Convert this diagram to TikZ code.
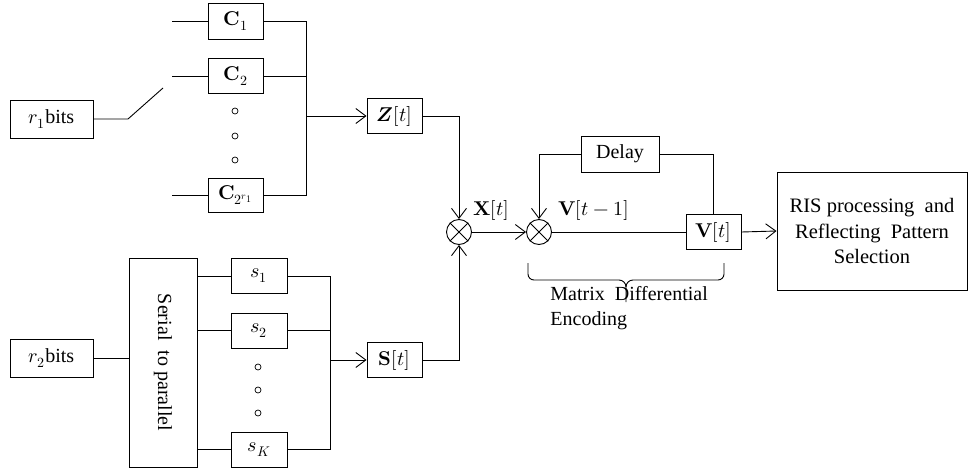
\documentclass[tikz,border=0pt]{standalone}
\usepackage{fontspec}
\usepackage{unicode-math}
\setmainfont{Liberation Serif}
\setmathfont{Latin Modern Math}
\usetikzlibrary{arrows.meta}
\begin{document}
\begin{tikzpicture}[x=1pt,y=-1pt, line width=0.9pt,
  box/.style={draw, inner sep=0pt, font=\fontsize{20}{24}\selectfont},
  arr/.style={-{Straight Barb[length=10pt,width=15pt,line width=0.9pt]}},
  mult/.style={draw, circle, minimum size=25pt, inner sep=0pt},
  dotc/.style={draw, circle, minimum size=6pt, inner sep=0pt, line width=0.7pt},
  lbl/.style={font=\fontsize{20}{24}\selectfont, inner sep=0pt}]
\useasboundingbox (0,0) rectangle (969,471);

% ---- upper branch
\node[box, minimum width=83pt, minimum height=38pt] (r1) at (51.5,119) {$r_1$bits};
\coordinate (sw1) at (128,119);
\coordinate (sw2) at (163,88);
\draw (r1.east) -- (sw1) -- (sw2);

\node[box, minimum width=55pt, minimum height=36pt] (c1) at (235.5,21) {$\symbf{C}_1$};
\node[box, minimum width=55pt, minimum height=35pt] (c2) at (235.5,76) {$\symbf{C}_2$};
\node[box, minimum width=55pt, minimum height=34pt] (cn) at (235.5,195) {$\symbf{C}_{2^{r_1}}$};
\coordinate (c1in) at (172,21);
\coordinate (c2in) at (172,76);
\coordinate (cnin) at (172,195);
\draw (c1in) -- (c1.west);
\draw (c2in) -- (c2.west);
\draw (cnin) -- (cn.west);
\node[dotc] (cd1) at (235,111) {};
\node[dotc] (cd2) at (235,136) {};
\node[dotc] (cd3) at (235,160) {};

\coordinate (bz) at (306,116);
\draw (c1.east) -- (c1.east -| bz) -- (cn.east -| bz) -- (cn.east);
\draw (c2.east) -- (c2.east -| bz);
\node[box, minimum width=55pt, minimum height=35pt] (z) at (394.5,116) {$\symbfit{Z}[t]$};
\draw[arr] (bz) -- (z.west);

% ---- lower branch
\node[box, minimum width=83pt, minimum height=38pt] (r2) at (51.5,358) {$r_2$bits};
\node[box, minimum width=68pt, minimum height=209pt] (sp) at (163,362.5) {};
\node[lbl, rotate=-90] (sptext) at (sp.center) {Serial\ \ to parallel};
\draw (r2.east) -- (r2.east -| sp.west);

\node[box, minimum width=56pt, minimum height=35pt] (s1) at (259,276) {$s_1$};
\node[box, minimum width=56pt, minimum height=35pt] (s2) at (259,330.5) {$s_2$};
\node[box, minimum width=56pt, minimum height=35pt] (sk) at (259,449.5) {$s_K$};
\draw (s1.west -| sp.east) -- (s1.west);
\draw (s2.west -| sp.east) -- (s2.west);
\draw (sk.west -| sp.east) -- (sk.west);
\node[dotc] (sd1) at (258,367) {};
\node[dotc] (sd2) at (258,390) {};
\node[dotc] (sd3) at (258,413) {};

\coordinate (bs) at (330,360);
\draw (s1.east) -- (s1.east -| bs) -- (sk.east -| bs) -- (sk.east);
\draw (s2.east) -- (s2.east -| bs);
\node[box, minimum width=55pt, minimum height=35pt] (s) at (394.5,360) {$\symbf{S}[t]$};
\draw[arr] (bs) -- (s.west);

% ---- multipliers
\node[mult] (m1) at (459,232) {};
\draw (m1.north east) -- (m1.south west) (m1.north west) -- (m1.south east);
\node[mult] (m2) at (539,232) {};
\draw (m2.north east) -- (m2.south west) (m2.north west) -- (m2.south east);
\draw[arr] (z.east) -| (m1.north);
\draw[arr] (s.east) -| (m1.south);
\node[lbl, anchor=base west] (xl) at (473,215) {$\symbf{X}[t]$};
\draw[arr] (m1.east) -- (m2.west);
\node[lbl, anchor=base west] (vl) at (558,215) {$\symbf{V}[t-1]$};

% ---- differential encoding
\node[box, minimum width=78pt, minimum height=36pt] (delay) at (620,154) {Delay};
\node[box, minimum width=55pt, minimum height=35pt] (v) at (713.5,232) {$\symbf{V}[t]$};
\draw (m2.east) -- (v.west);
\draw (v.north) |- (delay.east);
\draw[arr] (delay.west) -| (m2.north);

\node[box, minimum width=190pt, minimum height=118pt, align=center,
      font=\fontsize{20.5}{25.5}\selectfont] (ris) at (872,231)
  {RIS processing\ \ and\\Reflecting\ \ Pattern\\Selection};
\draw[arr] (v.east) -- (ris.west);

% ---- brace
\coordinate (bl) at (528,263);
\coordinate (br) at (724,263);
\coordinate (bt) at (626,302);
\draw (bl) -- (528,274) to[out=-90,in=180] (534,280) -- (619,280)
      to[out=0,in=90] (bt |- 0,287) -- (bt);
\draw (br) -- (724,274) to[out=-90,in=0] (718,280) -- (633,280)
      to[out=180,in=90] (bt |- 0,287);
\node[lbl, anchor=base west, align=left, font=\fontsize{20}{25}\selectfont] (mde) at (550,325)
  {Matrix\ \ Differential\\Encoding};
\end{tikzpicture}
\end{document}
